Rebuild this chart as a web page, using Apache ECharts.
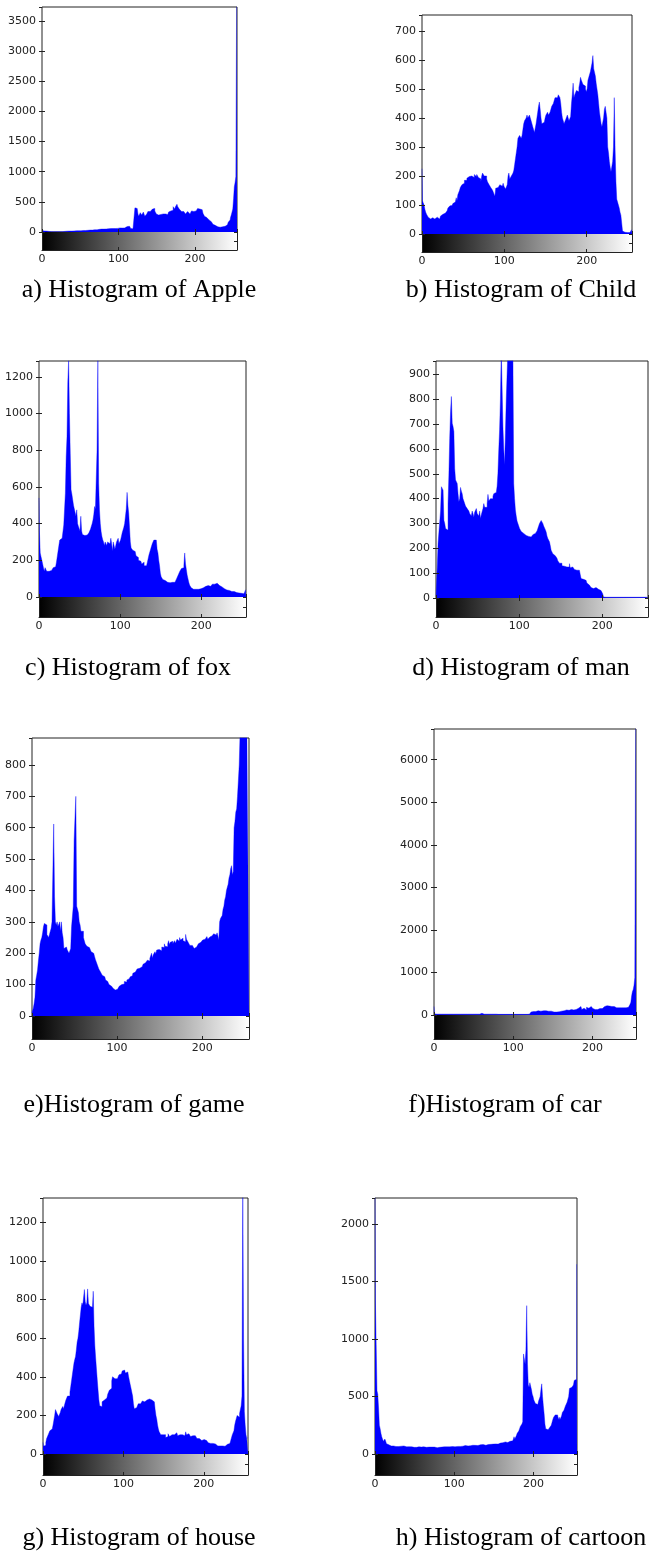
<!DOCTYPE html>
<html>
<head>
<meta charset="utf-8">
<script src="https://cdn.jsdelivr.net/npm/echarts@6/dist/echarts.min.js"></script>
<style>
html,body{margin:0;padding:0;background:#fff;}
#chart{width:649px;height:1558px;}
</style>
</head>
<body>
<div id="chart"></div>
<script>
// ---------- data: pixel counts per gray level (0..255) ----------
const grayLevels = [0, 255];
const xTickStep = 100;

const apple = [
25,22,20,18,18,15,15,12,12,10,
5,5,5,5,4,4,5,5,5,5,
5,5,5,5,5,6,6,6,7,8,
10,12,12,14,12,15,15,14,16,15,
16,18,18,15,18,20,18,20,22,20,
22,20,18,22,25,22,24,25,26,28,
28,30,28,32,30,35,32,34,36,38,
38,40,36,42,40,44,45,42,48,46,
50,48,52,55,50,54,56,55,52,58,
56,60,55,58,62,60,58,62,65,60,
62,65,68,64,70,66,72,70,68,75,
80,90,110,115,95,70,60,55,50,55,
60,80,400,410,390,380,300,260,280,320,
300,280,270,330,310,260,290,300,320,340,
360,350,340,370,360,380,370,390,350,330,
300,290,280,300,310,290,300,280,300,320,
310,300,320,310,290,300,330,310,350,330,
340,360,420,400,380,420,440,460,420,400,
380,360,350,340,320,340,330,350,300,320,
330,340,310,320,300,330,350,370,360,340,
330,350,380,370,390,400,380,360,400,370,
340,310,290,260,250,240,230,220,210,200,
200,190,170,150,130,120,110,100,95,90,
85,80,78,80,75,80,85,80,90,95,
100,110,120,140,160,190,200,240,280,330,
380,550,750,820,920,3800];

const child = [
225,115,110,100,85,75,68,62,58,55,
52,55,58,56,52,50,52,55,58,60,
55,52,58,62,65,68,70,70,72,72,
74,80,90,95,97,95,98,100,105,100,
110,105,125,115,135,140,150,160,165,170,
165,175,185,190,185,192,190,198,200,195,
200,205,200,195,205,200,198,205,200,195,
200,190,180,200,210,215,200,205,200,190,
180,175,170,165,160,155,152,145,140,130,
158,155,160,165,160,170,165,165,170,175,
165,160,155,160,170,200,210,190,185,200,
200,210,220,240,260,280,300,330,335,340,
335,330,340,360,380,390,395,400,410,400,
395,410,400,390,380,370,360,350,345,380,
400,420,440,455,430,400,380,375,385,390,
400,410,415,420,410,415,420,430,440,445,
450,460,470,465,470,475,480,485,470,450,
420,400,390,380,385,395,400,410,400,390,
395,405,450,480,520,470,480,485,495,500,
490,505,520,540,530,525,515,520,510,500,
490,500,530,540,535,560,565,590,615,570,
570,545,520,500,480,450,420,400,380,370,
375,400,430,440,420,400,300,280,250,230,
215,220,250,300,470,290,180,120,110,100,
90,75,65,60,10,8,6,5,5,5,
5,5,5,5,5,15];

const fox = [
540,360,240,220,200,180,160,140,160,150,
140,130,140,135,130,145,150,140,160,165,
165,170,190,200,250,260,310,315,320,318,
320,393,402,566,765,874,1173,1290,1000,783,
584,560,530,500,493,460,440,475,400,385,
380,360,440,360,340,330,335,330,340,338,
340,345,350,357,370,386,400,420,450,493,
480,640,800,1290,620,475,400,357,330,312,
300,280,300,310,280,300,310,290,300,320,
290,250,300,280,260,270,300,310,320,290,
300,310,330,350,360,380,400,440,480,570,
500,457,380,300,267,260,255,250,248,240,
225,221,215,200,210,195,200,180,185,190,
170,160,170,180,190,200,230,225,260,270,
290,300,310,315,310,300,260,240,200,170,
130,110,100,95,85,90,88,85,80,80,
80,78,82,85,80,78,75,80,85,90,
100,110,120,130,140,150,155,150,160,175,
240,180,150,120,100,80,65,55,50,45,
42,40,45,42,40,38,42,45,48,45,
48,55,50,52,55,58,60,55,62,65,
60,58,62,65,70,68,70,65,72,75,
68,65,62,60,58,55,50,48,45,42,
40,38,35,38,36,35,32,30,28,35,
30,28,25,24,22,25,22,20,22,20,
18,20,18,16,15,40];

const man = [
5,10,125,220,265,266,350,448,440,434,
313,300,280,275,273,380,495,643,750,811,
703,690,670,520,475,470,461,420,387,400,
445,430,420,400,390,380,370,365,360,355,
350,340,345,330,350,340,325,345,350,360,
340,345,330,350,320,335,340,360,380,365,
370,365,380,417,390,395,400,405,400,410,
420,421,425,428,450,502,596,677,800,1000,
845,690,600,535,663,798,900,1000,1050,1100,
1100,1050,1000,980,461,400,354,330,310,300,
290,280,272,268,262,260,258,255,252,250,
253,248,250,245,246,250,252,255,258,260,
255,260,270,280,290,300,305,312,310,300,
290,286,275,266,250,240,233,226,210,192,
185,178,175,170,168,165,160,150,145,140,
138,140,130,132,128,135,131,125,130,128,
125,138,122,118,125,130,120,115,118,112,
115,110,112,111,95,78,80,75,72,70,
71,68,60,55,52,51,45,42,40,38,
40,38,42,42,40,35,33,31,30,28,
22,17,4,3,3,3,3,3,3,3,
3,3,3,3,3,3,3,3,3,3,
3,3,3,3,3,3,3,3,3,3,
3,3,3,3,3,3,3,3,3,3,
3,3,3,3,3,3,3,3,3,3,
3,3,3,3,3,3];

const game = [
10,15,25,40,60,115,130,147,175,200,
230,242,250,265,285,295,295,290,260,255,
250,260,255,280,300,306,612,380,300,290,
300,285,290,300,270,300,265,250,215,210,
220,215,210,205,200,200,215,285,290,350,
560,565,700,350,340,330,300,290,270,265,
270,250,240,230,225,222,220,218,215,220,
205,200,200,195,190,180,175,165,160,150,
145,140,135,130,128,125,120,115,112,110,
105,100,98,95,92,90,88,85,83,82,
85,90,88,95,95,100,98,105,102,110,
112,108,115,120,118,122,125,130,128,136,
135,140,138,145,150,148,152,155,150,157,
160,165,162,170,175,172,178,180,175,184,
190,200,185,195,200,205,198,210,205,212,
210,215,208,220,225,218,230,222,228,221,
230,240,228,235,232,238,230,235,240,232,
232,245,240,238,250,242,236,248,240,237,
237,260,245,240,235,230,225,222,225,221,
221,215,212,220,218,225,230,228,235,232,
237,242,238,245,240,248,253,245,250,252,
248,255,258,260,262,264,258,260,265,255,
242,300,311,315,320,340,350,370,380,400,
410,420,440,450,470,479,450,460,600,620,
650,660,700,750,800,900,950,1000,1000,1000,
1000,1000,1000,1000,1000,1000];

const car = [
200,30,20,20,20,20,20,20,20,20,
20,15,20,20,20,20,15,20,20,20,
40,20,20,25,20,20,20,20,20,20,
20,20,20,20,20,20,20,20,20,20,
20,20,20,20,20,20,20,20,20,20,
20,20,20,20,20,20,20,20,20,40,
40,20,20,20,20,20,20,20,20,20,
30,20,20,20,20,20,20,20,20,20,
15,15,15,15,15,15,15,15,15,15,
15,15,15,15,15,15,15,15,15,15,
15,15,15,15,15,15,15,15,15,15,
15,15,15,15,15,15,15,15,15,15,
20,60,70,65,75,80,85,90,80,85,
90,100,95,85,100,90,95,110,100,95,
90,100,110,100,90,95,100,85,90,95,
80,70,75,60,65,70,80,60,75,70,
80,90,85,75,100,90,110,95,120,100,
110,120,100,130,115,140,120,150,110,130,
140,120,160,150,130,200,180,130,150,160,
140,170,120,180,190,160,150,170,200,230,
180,150,140,130,150,160,130,120,140,150,
160,170,150,180,190,200,180,170,220,190,
200,210,190,180,200,190,220,200,180,190,
170,180,160,170,150,160,170,150,160,170,
150,160,170,180,170,180,200,220,250,300,
450,550,600,700,880,6800];

const house = [
60,40,35,45,60,80,90,100,110,120,
125,130,125,150,175,200,230,228,210,200,
194,200,215,230,240,246,235,250,265,280,
290,300,306,300,320,350,380,410,440,470,
490,505,540,580,600,635,680,720,760,783,
770,760,852,790,770,783,855,780,770,765,
770,760,770,843,660,560,497,440,384,330,
280,250,240,245,270,275,280,270,275,290,
300,310,320,330,320,340,380,400,405,390,
395,400,390,385,400,410,400,415,420,430,
425,435,430,420,430,425,415,400,380,360,
340,320,300,260,235,230,240,245,250,260,
255,260,265,270,275,265,270,260,275,280,
270,275,285,280,290,280,285,275,270,260,
230,200,180,150,130,115,105,100,95,100,
95,90,100,85,95,90,105,100,90,95,
100,95,110,100,105,95,110,100,95,105,
100,95,110,100,105,110,95,100,115,100,
95,105,100,95,90,100,95,90,85,95,
90,85,80,85,80,75,80,70,75,70,
75,70,65,70,60,65,58,60,55,58,
52,55,50,48,52,45,48,42,45,40,
42,40,38,42,40,38,40,42,45,50,
45,50,55,60,70,80,100,110,120,150,
170,180,200,210,190,210,220,250,300,1400,
590,220,150,100,80,85];

const cartoon = [
2300,1330,950,550,520,400,250,220,180,150,
130,110,100,130,110,90,95,80,85,75,
70,72,65,70,68,72,65,70,62,68,
65,70,64,68,66,62,70,65,60,66,
62,65,60,64,58,66,62,60,65,58,
62,60,58,64,60,56,62,58,60,55,
58,62,56,60,55,58,62,56,60,58,
55,60,58,62,56,60,58,62,55,60,
62,58,60,64,60,62,58,62,66,60,
64,62,60,66,62,64,68,62,65,70,
66,62,68,64,66,70,64,68,66,70,
72,68,66,70,74,68,72,70,74,76,
72,80,74,70,76,72,75,78,72,76,
74,78,76,80,74,78,82,76,80,78,
76,80,78,82,80,78,84,80,82,86,
82,84,88,85,90,86,88,92,95,90,
95,98,92,100,105,98,95,100,108,102,
110,105,112,118,115,120,150,130,140,160,
180,190,200,220,240,250,260,280,870,860,
780,900,1290,780,600,580,620,630,560,520,
500,470,460,440,450,430,430,460,480,500,
560,610,500,420,350,260,220,210,210,200,
210,230,240,250,260,300,320,330,340,350,
340,350,300,320,300,310,330,360,370,380,
400,420,430,450,450,500,570,560,580,590,
580,600,640,650,650,1650];

const captions = ['a) Histogram of Apple','b) Histogram of Child','c) Histogram of fox','d) Histogram of man',
                  'e)Histogram of game','f)Histogram of car','g) Histogram of house','h) Histogram of cartoon'];
const yMaxima = [3730, 755, 1286, 954, 886, 6720, 1326, 2226];
const yTickSteps = [500, 100, 200, 100, 100, 1000, 200, 500];
const histograms = [apple, child, fox, man, game, car, house, cartoon];

// ---------- layout (pixels) ----------
const frames = [
  {l:42,  r:237, t:7,    z:232,  b:250,  cx:139, cy:290},
  {l:422, r:632, t:15,   z:234,  b:252,  cx:521, cy:290},
  {l:39,  r:246, t:361,  z:597,  b:617,  cx:128, cy:668},
  {l:436, r:648, t:361,  z:598,  b:617,  cx:521, cy:668},
  {l:32,  r:249, t:738,  z:1016, b:1039, cx:134, cy:1105},
  {l:434, r:636, t:729,  z:1015, b:1039, cx:505, cy:1105},
  {l:43,  r:248, t:1198, z:1454, b:1475, cx:139, cy:1538},
  {l:375, r:577, t:1198, z:1454, b:1475, cx:521, cy:1538}
];

const FRAME = '#222';
const TICKFONT = 'DejaVu Sans';
// negative length draws the ticks towards the plot area (inward, MATLAB style)
const mkTick = () => ({show:true, inside:false, length:-3, lineStyle:{color:FRAME, width:1}});

const option = {backgroundColor:'#fff', animation:false, grid:[], xAxis:[], yAxis:[], series:[], graphic:[]};

frames.forEach((f, i) => {
  const w = f.r - f.l;
  const gH = 2*i, gG = 2*i+1;
  option.grid.push({left:f.l, top:f.t, width:w, height:f.z - f.t, show:true, borderColor:FRAME, borderWidth:1, backgroundColor:'transparent'});
  option.grid.push({left:f.l, top:f.z, width:w, height:f.b - f.z, show:false});

  const xBase = () => ({type:'value', min:grayLevels[0], max:grayLevels[1], interval:xTickStep, splitLine:{show:false}});
  option.xAxis.push(Object.assign(xBase(), {gridIndex:gH, position:'bottom', z:4, axisLine:{show:false}, axisTick:mkTick(), axisLabel:{show:false}}));
  option.xAxis.push(Object.assign(xBase(), {gridIndex:gH, position:'top', z:4, axisLine:{show:false}, axisTick:mkTick(), axisLabel:{show:false}}));
  option.xAxis.push(Object.assign(xBase(), {gridIndex:gG, position:'bottom', z:5,
    axisLine:{show:true, lineStyle:{color:FRAME, width:1}}, axisTick:mkTick(),
    axisLabel:{show:true, margin:4, fontSize:11, fontFamily:TICKFONT, color:'#222', showMaxLabel:false,
      formatter: v => (v % xTickStep === 0 ? String(v) : '')}}));

  const step = yTickSteps[i];
  const yBase = () => ({type:'value', min:0, max:yMaxima[i], interval:step, splitLine:{show:false}});
  option.yAxis.push(Object.assign(yBase(), {gridIndex:gH, position:'left', z:4, axisLine:{show:false}, axisTick:mkTick(),
    axisLabel:{show:true, margin:6, fontSize:11, fontFamily:TICKFONT, color:'#222', showMaxLabel:false,
      formatter: v => (v % step === 0 ? String(v) : '')}}));
  option.yAxis.push(Object.assign(yBase(), {gridIndex:gH, position:'right', z:4, axisLine:{show:false}, axisTick:mkTick(), axisLabel:{show:false}}));
  option.yAxis.push({type:'value', gridIndex:gG, min:0, max:1, position:'left', z:5, splitLine:{show:false},
    axisLine:{show:true, lineStyle:{color:FRAME, width:1}}, axisTick:{show:false}, axisLabel:{show:false}});
  option.yAxis.push({type:'value', gridIndex:gG, min:0, max:1, interval:0.5, position:'right', z:5, splitLine:{show:false},
    axisLine:{show:true, lineStyle:{color:FRAME, width:1}}, axisTick:mkTick(), axisLabel:{show:false}});

  option.series.push({
    type:'line', step:'middle', xAxisIndex:3*i, yAxisIndex:4*i, clip:true, silent:true, z:2,
    showSymbol:false, symbol:'none',
    lineStyle:{width:0.4, color:'#0000ff'},
    areaStyle:{color:'#0000ff', opacity:1},
    data: histograms[i].map((v, k) => [k, v])
  });
  option.series.push({
    type:'custom', xAxisIndex:3*i+2, yAxisIndex:4*i+2, silent:true, z:1,
    encode:{x:[0,1]},
    data:[[grayLevels[0], grayLevels[1]]],
    renderItem: (params, api) => {
      const p0 = api.coord([api.value(0), 1]);
      const p1 = api.coord([api.value(1), 0]);
      return {type:'rect', shape:{x:p0[0], y:p0[1], width:p1[0]-p0[0], height:p1[1]-p0[1]},
        style:{fill:new echarts.graphic.LinearGradient(0,0,1,0,[{offset:0,color:'#000'},{offset:1,color:'#fff'}])}};
    }
  });

  option.graphic.push({type:'text', x:f.cx, y:f.cy, silent:true,
    style:{text:captions[i], fontSize:26, fontFamily:'Liberation Serif', fill:'#000',
      align:'center', verticalAlign:'middle', textAlign:'center', textVerticalAlign:'middle'}});
});

const chart = echarts.init(document.getElementById('chart'), null, {renderer:'canvas'});
chart.setOption(option);
</script>
</body>
</html>
